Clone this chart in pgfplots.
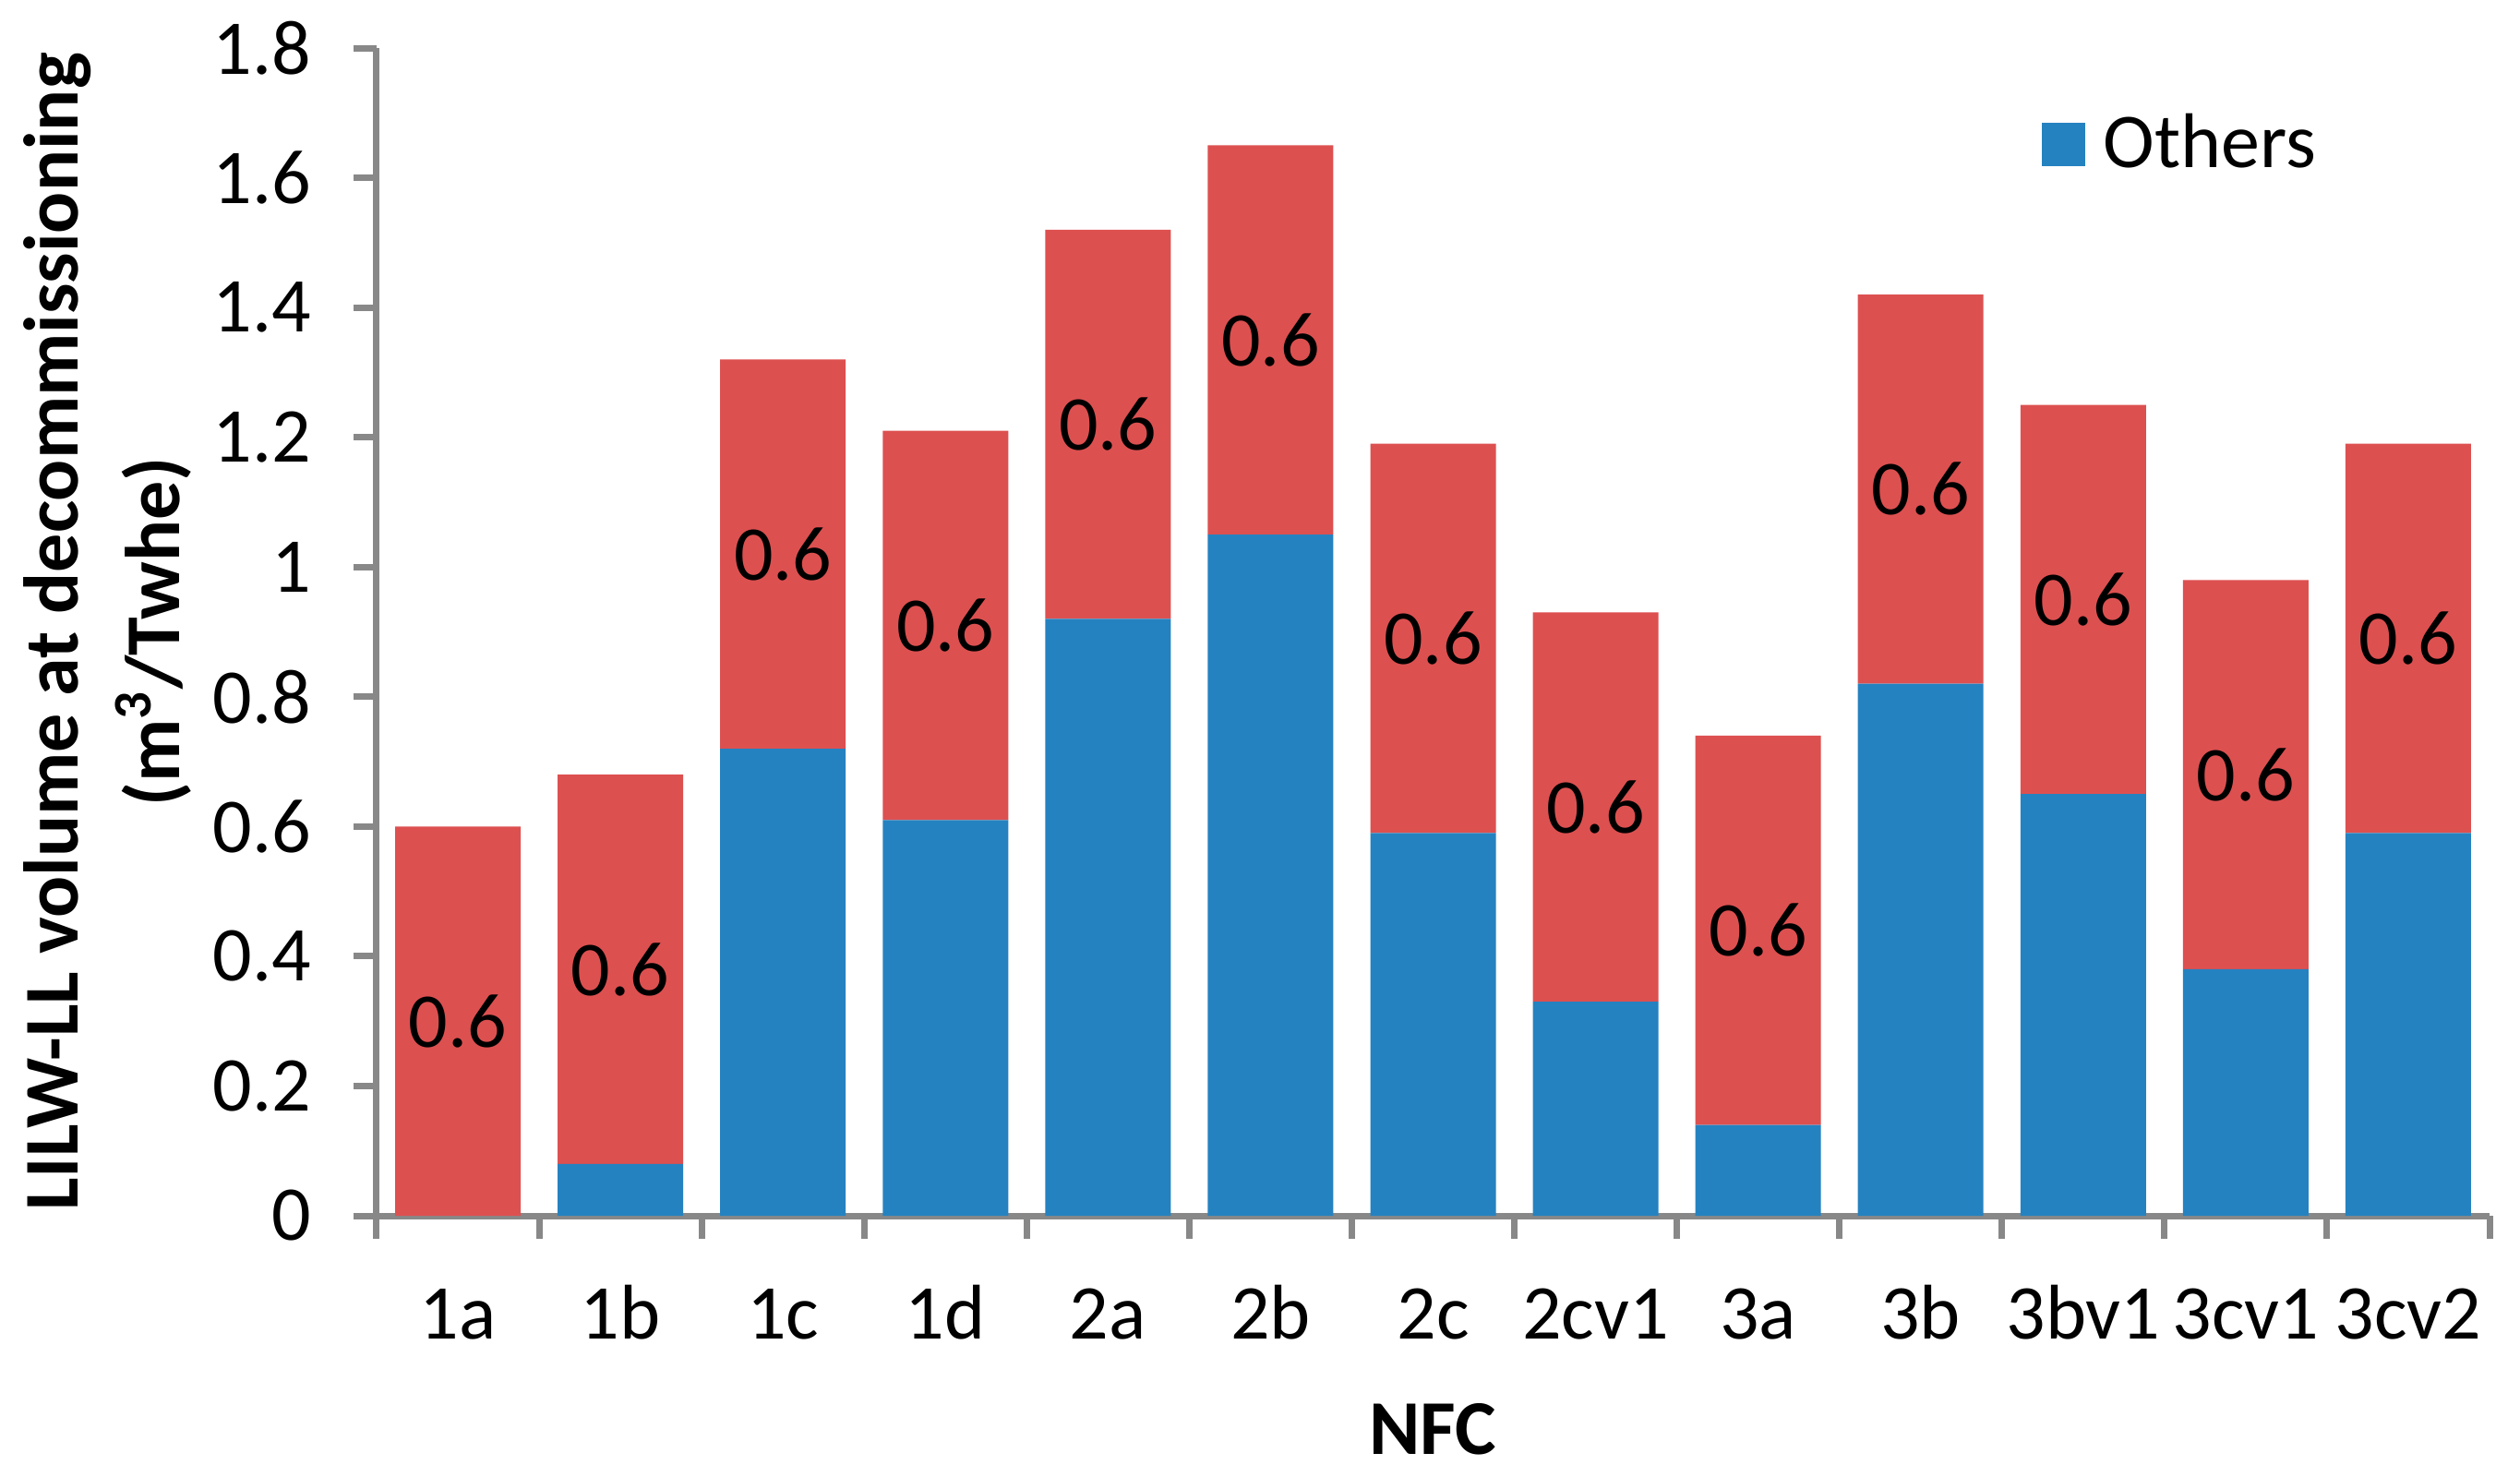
\documentclass[border=0pt]{standalone}
\usepackage{pgfplots}
\pgfplotsset{compat=1.18}
\usepackage{fontspec}
\setmainfont{Carlito}
\definecolor{barblue}{RGB}{37,130,192}
\definecolor{barred}{RGB}{221,80,80}
\definecolor{axgray}{RGB}{136,136,136}
\pgfplotstableread{
x others red
0 0.00 0.6
1 0.08 0.6
2 0.72 0.6
3 0.61 0.6
4 0.92 0.6
5 1.05 0.6
6 0.59 0.6
7 0.33 0.6
8 0.14 0.6
9 0.82 0.6
10 0.65 0.6
11 0.38 0.6
12 0.59 0.6
}\datatable
\begin{document}
\begin{tikzpicture}
\useasboundingbox (-81.6pt,-56.4pt) rectangle (464.4pt,263.4pt);
\begin{axis}[
  at={(0pt,0pt)}, anchor=south west,
  scale only axis, width=457.8pt, height=253pt,
  ybar stacked, bar width=27.2pt,
  xmin=-0.5, xmax=12.5, ymin=0, ymax=1.8,
  ytick={0,0.2,0.4,0.6,0.8,1,1.2,1.4,1.6,1.8},
  xtick={0,...,12},
  xticklabels={1a,1b,1c,1d,2a,2b,2c,2cv1,3a,3b,3bv1,3cv1,3cv2},
  minor xtick={-0.5,0.5,...,12.5},
  axis x line*=bottom, axis y line*=left,
  axis line style={axgray, line width=1.4pt, -},
  xtick pos=left, ytick pos=left,
  tick align=outside,
  major tick length=5pt, minor tick length=5pt,
  tick style={axgray, line width=1.4pt},
  major x tick style={draw=none},
  /pgf/number format/assume math mode=true,
  tick label style={font=\fontsize{16.8}{20}\selectfont, text=black},
  xticklabel style={anchor=base, inner sep=0pt, yshift=-21.6pt},
  yticklabel style={anchor=east, inner sep=0pt, xshift=-9pt},
  every axis y label/.style={at={([xshift=-58.35pt]axis description cs:0,0.5)}, rotate=90, anchor=center, align=center, font=\bfseries\fontsize{16.8}{22.1}\selectfont},
  every axis x label/.style={at={([yshift=-51.6pt]axis description cs:0.5,0)}, anchor=base, font=\bfseries\fontsize{16.8}{20}\selectfont},
  ylabel={LILW-LL volume at decommissioning\\(m\textsuperscript{3}/Twhe)},
  xlabel={NFC},
  legend style={draw=none, fill=none, at={(0.788,0.9174)}, anchor=west, inner sep=0pt, outer sep=0pt, font=\fontsize{16.8}{20}\selectfont, nodes={inner xsep=4pt, inner ysep=0pt}},
  legend image code/.code={\fill[#1,draw=none] (0pt,-4.7pt) rectangle (9.4pt,4.7pt);},
]
\addplot[fill=barblue, draw=none] table[x=x, y=others] {\datatable};
\addlegendentry{Others}
\addplot[fill=barred, draw=none, forget plot,
  nodes near coords, point meta=rawy,
  every node near coord/.append style={anchor=center, font=\fontsize{16.8}{20}\selectfont, text=black}]
  table[x=x, y=red] {\datatable};
\end{axis}
\end{tikzpicture}
\end{document}
